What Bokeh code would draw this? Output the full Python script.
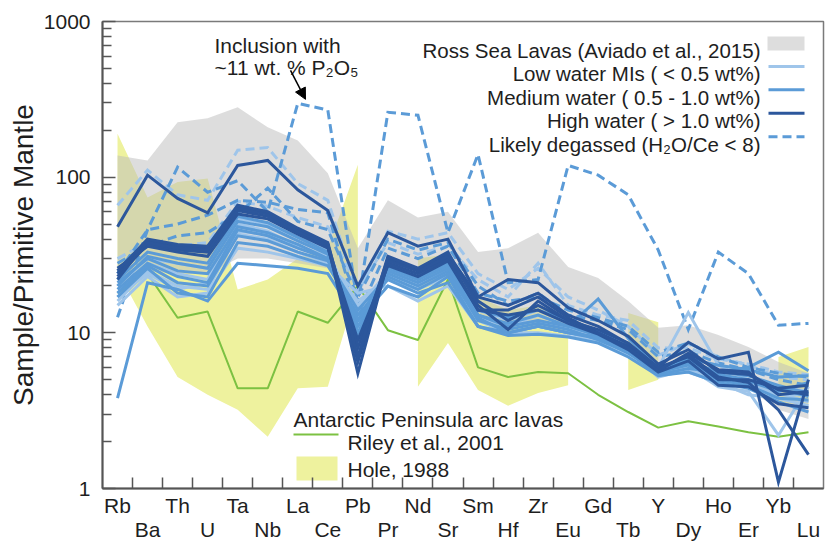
import math
from bokeh.plotting import figure
from bokeh.models import FixedTicker, Label, Arrow, NormalHead, LinearAxis, Title
from bokeh.embed import file_html
from bokeh.resources import INLINE

# ---------------------------------------------------------------- data
ELEMENTS = ["Rb", "Ba", "Th", "U", "Ta", "Nb", "La", "Ce", "Pb", "Pr", "Nd", "Sr",
            "Sm", "Hf", "Zr", "Eu", "Gd", "Tb", "Y", "Dy", "Ho", "Er", "Yb", "Lu"]
NAN = float("nan")

# Ross Sea lavas (Aviado et al., 2015) envelope
ross_upper = [138, 128, 225, 239, 281, 209, 172, 106, 35, 71, 55, 60,
              33, 35, 44, 26.5, 22.5, 16, 10.8, 11.2, 9.7, 8.1, 6.5, 5.5]
ross_lower = [20, 25, 24, 24, 30, 30, 28, 26, 13, 24, 20, 24,
              13, 11, 12, 10.5, 9, 7.5, 5.5, 6, 5, 4.4, 3.2, 2.8]

# Antarctic Peninsula arc lavas, Hole (1988) envelope (gaps = not analysed)
hole_upper = [190, 74, 93, 98, 19, 22, 30, 35, 120, NAN, 30, 32,
              17, 14, 15, 13, NAN, 13.4, 11.7, NAN, NAN, NAN, 7.0, 8.1]
hole_lower = [25, 11, 5.2, 4.0, 3.2, 2.15, 4.4, 4.5, 20, NAN, 4.5, 8.6,
              4.3, 3.4, 4.1, 4.6, NAN, 4.3, 5.0, NAN, NAN, NAN, 3.5, 3.5]

# Antarctic Peninsula arc lavas, Riley et al. (2001)
riley = [18, 24, 12.5, 13.7, 4.4, 4.4, 13.7, 11.6, 20, 10.4, 9.0, 22,
         6.0, 5.2, 5.6, 5.5, 4.0, 3.1, 2.46, 2.7, 2.5, 2.3, 2.15, 2.3]

# melt inclusions, high water (> 1.0 wt%)
hw_a = [48, 103, 73, 59, 119, 128, 83, 61, 20, 44, 36, 40, 17, 22, 21, 14.5, 12, 9.5, 6.3, 7.8, 5.6, 5.4, 4.3, 4.0]
hw_b = [25, 40, 37, 36, 66, 60, 47, 38, 7, 31, 26, 33, 15, 10.5, 16, 12, 10.5, 8.6, 6.0, 8.7, 6.8, 7.5, 1.1, 5.0]
hw_c = [24, 38, 35, 34, 63, 58, 45, 37, 5.5, 29, 25, 31, 16, 12, 15, 12, 10, 8.0, 5.8, 7.2, 5.2, 4.8, 3.2, 1.65]
hw_d = [23, 37, 34, 33, 61, 56, 44, 36, 6.5, 28, 24, 30, 14, 14, 17, 12.5, 10, 8.2, 6.0, 7.0, 5.0, 5.0, 4.4, 4.6]
hw_e = [22, 39, 36, 35, 64, 59, 46, 37, 8, 30, 25, 32, 17, 15, 18, 13, 11, 8.5, 5.7, 7.4, 5.8, 5.6, 4.0, 4.2]
hw_f = [26, 36, 33, 31, 58, 54, 43, 35, 9, 27, 23, 29, 14, 13, 14, 11.5, 9.8, 7.8, 5.6, 6.6, 4.6, 4.5, 3.5, 3.3]

# medium water (0.5 - 1.0 wt%)
mw_a = [3.8, 21, 19, 16, 28, 27, 26, 24, 12, 20, 17, 23, 11, 10, 11, 10, 9.2, 7.4, 5.7, 6.4, 5.4, 5.0, 4.4, 3.9]
mw_b = [20, 31, 28, 26, 52, 48, 39, 32, 10, 26, 22, 27, 13, 11.5, 13, 11, 9.6, 7.8, 5.6, 6.2, 5.0, 4.6, 3.8, 3.7]
mw_c = [19, 28, 23, 21, 46, 42, 35, 30, 11, 24, 20, 25, 12, 10.5, 11.5, 10.5, 9.0, 7.5, 5.4, 5.9, 5.6, 6.0, 7.5, 5.7]
mw_d = [17, 26, 18, 17, 38, 36, 31, 27, 13, 22, 18, 21, 11, 9.6, 9.8, 9.4, 8.6, 7.0, 5.3, 5.6, 4.8, 4.4, 3.6, 3.1]
mw_e = [22, 33, 30, 28, 56, 51, 41, 33, 9, 27, 23, 28, 14, 12.5, 14, 12, 10.2, 8.1, 5.5, 6.5, 5.3, 4.9, 4.2, 4.8]
mw_f = [21, 30, 25, 24, 48, 44, 37, 30, 12, 25, 21, 26, 13, 11, 12, 11, 16.5, 9.2, 6.1, 6.6, 5.6, 5.3, 4.6, 4.1]
mw_g = [18, 27, 21, 20, 42, 39, 33, 29, 14, 23, 19, 24, 12.5, 10, 11, 10, 9.4, 7.6, 5.8, 6.8, 6.2, 5.8, 5.2, 5.3]

# low water (< 0.5 wt%)
lw_a = [18, 28, 24, 22, 50, 45, 36, 30, 15, 24, 20, 26, 13, 11, 13, 11, 9.5, 8.0, 6.0, 13.5, 6.2, 5.0, 4.5, 4.2]
lw_b = [16, 25, 20, 19, 43, 40, 33, 28, 16, 22, 19, 23, 12, 10, 11, 10, 9.0, 7.5, 5.5, 6.0, 4.5, 4.2, 2.2, 4.5]
lw_c = [15, 23, 17, 18, 35, 33, 30, 27, 18, 20, 16, 20, 11, 10, 10, 9.5, 8.8, 7.2, 5.4, 5.6, 4.8, 4.0, 3.8, 3.4]
lw_d = [20, 30, 28, 26, 54, 50, 41, 34, 12, 26, 22, 28, 14, 12, 14, 11.5, 10, 8.0, 5.7, 6.3, 5.3, 4.7, 4.0, 4.0]
lw_e = [17, 24, 19, 21, 45, 43, 36, 31, 14, 25, 21, 24, 12.5, 11, 12, 10.5, 9.2, 7.6, 5.2, 5.8, 4.9, 4.5, 4.1, 3.6]

# likely degassed (H2O/Ce < 8)
dg_p2o5 = [12.6, 46, 116, 80, 95, 60, 298, 270, 15, 261, 250, 44, 140, 21, 22, 119, 103, 77, 34, 10.5, 33, 24, 11.2, 11.5]
dg_b = [66, 111, 77, 71, 149, 155, 91, 71, 18, 45, 40, 44, 24, 19, 26, 17, 14, 11, 7.2, 8.5, 7.0, 6.2, 5.2, 5.0]
dg_c = [24, 46, 50, 57, 71, 69, 62, 59, 13, 35, 30, 36, 18, 16, 17, 14, 12.5, 11, 7.5, 8.6, 7.0, 6.0, 5.5, 5.2]
dg_d = [28, 36, 42, 44, 58, 85, 52, 46, 17, 40, 34, 38, 20, 15, 18, 13, 12, 10.5, 7.0, 7.6, 6.4, 5.8, 5.0, 4.6]
dg_e = [30, 38, 36, 38, 70, 65, 55, 48, 19, 38, 32, 36, 22, 17, 28, 15, 13, 12, 8.0, 8.0, 6.8, 6.3, 5.6, 5.4]

high_water = [hw_f, hw_e, hw_d, hw_c, hw_b, hw_a]
medium_water = [mw_a, mw_b, mw_c, mw_d, mw_e, mw_f, mw_g]
low_water = [lw_a, lw_b, lw_c, lw_d, lw_e]
degassed_light = [dg_b, dg_e]
degassed_medium = [dg_c, dg_d, dg_p2o5]

# ---------------------------------------------------------------- style
FONT = "Liberation Sans"
TXT = "#1e1e1e"
LOW_C = "#9fc5ea"
MED_C = "#5b9bd7"
HIGH_C = "#2c579c"
GREY_C = "#bcbcbc"
YELLOW_C = "#eef29e"
GREEN_C = "#7cc142"
AXIS_C = "#555555"
DASH = "9 5"

W, H = 825, 543
FL, FR, FT, FB = 102, 823, 21, 489
N = len(ELEMENTS)
X_LO, X_HI = -0.5, N - 0.5
Y_LO, Y_HI = 1, 1000
x = list(range(N))


def sx(px):
    """canvas pixel column -> x data coordinate (for text/legend layout)"""
    return X_LO + (px - FL) / (FR - FL) * (X_HI - X_LO)


def sy(py):
    """canvas pixel row -> y data coordinate on the log axis"""
    span = math.log10(Y_HI) - math.log10(Y_LO)
    return 10 ** (math.log10(Y_HI) - (py - FT) / (FB - FT) * span)


p = figure(width=W, height=H, x_range=(X_LO, X_HI), y_range=(Y_LO, Y_HI),
           y_axis_type="log", output_backend="svg", toolbar_location=None,
           min_border_left=FL, min_border_right=W - FR,
           min_border_top=FT, min_border_bottom=H - FB)
p.xgrid.visible = False
p.ygrid.visible = False
p.outline_line_color = "#7a7a7a"
p.outline_line_width = 1.5
p.background_fill_color = "white"
p.border_fill_color = "white"

# x axis: separators between elements only
p.xaxis.ticker = FixedTicker(ticks=[i + 0.5 for i in range(N - 1)])
p.xaxis.major_tick_in = 11
p.xaxis.major_tick_out = 0
p.xaxis.major_label_text_alpha = 0
p.xaxis.major_label_text_font_size = "0px"
p.xaxis.major_label_standoff = 0
p.xaxis.axis_line_width = 2
p.xaxis.axis_line_color = AXIS_C
p.xaxis.major_tick_line_color = AXIS_C
p.xaxis.major_tick_line_width = 1.5


def element_axis(indices, standoff):
    ax = LinearAxis(ticker=FixedTicker(ticks=indices),
                    major_label_overrides={i: ELEMENTS[i] for i in indices},
                    axis_line_color=None, major_tick_line_color=None,
                    minor_tick_line_color=None, major_tick_in=0, major_tick_out=0,
                    major_label_standoff=standoff, major_label_text_font=FONT,
                    major_label_text_font_size="21px", major_label_text_color=TXT)
    p.add_layout(ax, "below")


# element names in two staggered rows
element_axis(list(range(0, N, 2)), 5)
element_axis(list(range(1, N, 2)), -2)

minor = [m * 10 ** e for e in range(0, 3) for m in range(2, 10)]
p.yaxis.ticker = FixedTicker(ticks=[1, 10, 100, 1000], minor_ticks=minor)
p.yaxis.major_label_overrides = {1: "1", 10: "10", 100: "100", 1000: "1000"}
p.yaxis.major_tick_in = 13
p.yaxis.major_tick_out = 0
p.yaxis.minor_tick_in = 9
p.yaxis.minor_tick_out = 0
p.yaxis.major_label_standoff = 12
p.yaxis.major_label_text_font = FONT
p.yaxis.major_label_text_font_size = "21px"
p.yaxis.major_label_text_color = TXT
p.yaxis.axis_line_width = 2
p.yaxis.axis_line_color = AXIS_C
p.yaxis.major_tick_line_color = AXIS_C
p.yaxis.minor_tick_line_color = AXIS_C
p.yaxis.major_tick_line_width = 1.5
p.yaxis.minor_tick_line_width = 1.5

p.add_layout(Title(text="Sample/Primitive Mantle", align="center", offset=30,
                   text_font=FONT, text_font_size="28px", text_font_style="normal",
                   text_color=TXT, standoff=4), "left")

# ---------------------------------------------------------------- envelopes
def runs(vals):
    out, cur = [], []
    for i, v in enumerate(vals):
        if v == v:
            cur.append(i)
        elif cur:
            out.append(cur)
            cur = []
    if cur:
        out.append(cur)
    return out


hole_xs, hole_ys = [], []
for r in runs(hole_upper):
    hole_xs.append([x[i] for i in r] + [x[i] for i in reversed(r)])
    hole_ys.append([hole_upper[i] for i in r] + [hole_lower[i] for i in reversed(r)])
p.patches(xs=hole_xs, ys=hole_ys, fill_color=YELLOW_C, line_color=None)

p.varea(x=x, y1=ross_lower, y2=ross_upper, fill_color=GREY_C, fill_alpha=0.5)

p.line(x, riley, line_color=GREEN_C, line_width=2)

# ---------------------------------------------------------------- melt inclusions
for s in degassed_light:
    p.line(x, s, line_color=LOW_C, line_width=3, line_dash=DASH, line_join="miter")
for s in degassed_medium:
    p.line(x, s, line_color=MED_C, line_width=3, line_dash=DASH, line_join="miter")
for s in low_water:
    p.line(x, s, line_color=LOW_C, line_width=3, line_join="miter")
for s in medium_water:
    p.line(x, s, line_color=MED_C, line_width=3, line_join="miter")
for s in high_water:
    p.line(x, s, line_color=HIGH_C, line_width=3, line_join="miter")

# ---------------------------------------------------------------- text
def label(px, py, text, size="21px", align="left"):
    p.add_layout(Label(x=sx(px), y=sy(py), text=text, text_font=FONT,
                       text_font_size=size, text_color=TXT, text_align=align,
                       text_baseline="alphabetic"))


# upper-right legend
legend_rows = [
    ("Ross Sea Lavas (Aviado et al., 2015)", 50, None),
    ("Low water MIs ( < 0.5 wt%)", 73.5, (LOW_C, None)),
    ("Medium water ( 0.5 - 1.0 wt%)", 97, (MED_C, None)),
    ("High water ( > 1.0 wt%)", 120.5, (HIGH_C, None)),
    ("Likely degassed (H\u2082O/Ce < 8)", 144, (MED_C, DASH)),
]
for text, base, sw in legend_rows:
    label(760, base, text, size="20.5px", align="right")
    if sw is None:
        p.quad(left=sx(767), right=sx(804), top=sy(36), bottom=sy(50),
               fill_color=GREY_C, fill_alpha=0.5, line_color=None)
    else:
        color, dash = sw
        yy = sy(base - 7.5)
        p.line([sx(768), sx(804)], [yy, yy], line_color=color, line_width=3,
               line_dash=dash if dash else "solid")

# lower legend (arc lavas)
label(293, 420, "Antarctic Peninsula arc lavas")
label(347, 443, "Riley et al., 2001")
label(347, 470, "Hole, 1988")
p.line([sx(293), sx(338)], [sy(435), sy(435)], line_color=GREEN_C, line_width=2)
p.quad(left=sx(296), right=sx(337), top=sy(457), bottom=sy(481),
       fill_color=YELLOW_C, line_color=None)

# annotation of the phosphate-rich inclusion
label(214, 45, "Inclusion with")
label(214, 67, "~11 wt. % P\u2082O\u2085")
p.add_layout(Arrow(end=NormalHead(size=11, fill_color="black", line_color="black"),
                   x_start=sx(290), y_start=sy(70), x_end=sx(305), y_end=sy(99),
                   line_color="black", line_width=1.5))

open("out.html", "w").write(file_html(p, INLINE))
